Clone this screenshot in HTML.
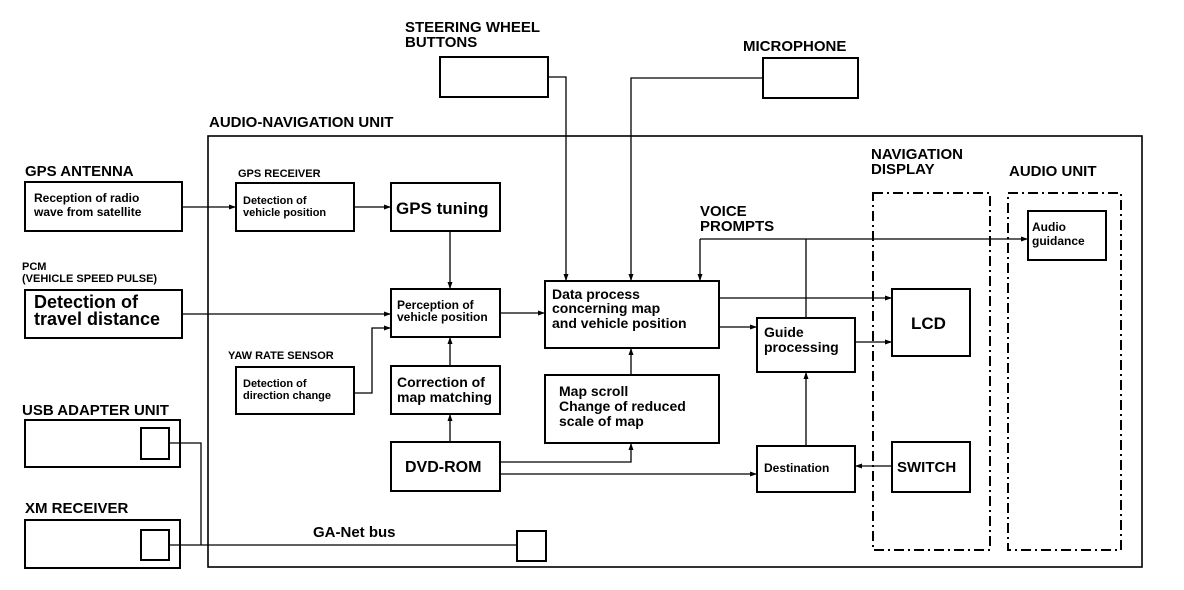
<!DOCTYPE html>
<html><head><meta charset="utf-8"><style>
html,body{margin:0;padding:0;background:#fff;}
svg{display:block;}
text{font-family:"Liberation Sans",Arial,sans-serif;font-weight:bold;fill:#000;}
</style></head><body>
<svg width="1184" height="590" viewBox="0 0 1184 590" xmlns="http://www.w3.org/2000/svg">
<defs>
<marker id="a" markerWidth="8" markerHeight="6" refX="7" refY="3" orient="auto" markerUnits="userSpaceOnUse">
<path d="M0,0.5 L7,3 L0,5.5 z" fill="#000"/></marker>
</defs>
<g fill="none" stroke="#000" stroke-width="1.3">
<!-- outer -->
<rect x="208" y="136" width="934" height="431" stroke-width="1.6"/>
<!-- external -->
<rect x="440" y="57" width="108" height="40" stroke-width="2"/>
<rect x="763" y="58" width="95" height="40" stroke-width="2"/>
<rect x="25" y="182" width="157" height="49" stroke-width="2"/>
<rect x="25" y="290" width="157" height="48" stroke-width="2"/>
<rect x="25" y="420" width="155" height="47" stroke-width="2"/>
<rect x="141" y="428" width="28" height="31" stroke-width="2"/>
<rect x="25" y="520" width="155" height="48" stroke-width="2"/>
<rect x="141" y="530" width="28" height="30" stroke-width="2"/>
<!-- inner -->
<rect x="236" y="183" width="118" height="48" stroke-width="2"/>
<rect x="391" y="183" width="109" height="48" stroke-width="2"/>
<rect x="391" y="289" width="109" height="48" stroke-width="2"/>
<rect x="236" y="367" width="118" height="47" stroke-width="2"/>
<rect x="391" y="366" width="109" height="48" stroke-width="2"/>
<rect x="391" y="442" width="109" height="49" stroke-width="2"/>
<rect x="545" y="281" width="174" height="67" stroke-width="2"/>
<rect x="545" y="375" width="174" height="68" stroke-width="2"/>
<rect x="757" y="318" width="98" height="54" stroke-width="2"/>
<rect x="757" y="446" width="98" height="46" stroke-width="2"/>
<rect x="892" y="289" width="78" height="67" stroke-width="2"/>
<rect x="892" y="442" width="78" height="50" stroke-width="2"/>
<rect x="1028" y="211" width="78" height="49" stroke-width="2"/>
<rect x="517" y="531" width="29" height="30" stroke-width="2"/>
<!-- dashed -->
<rect x="873" y="193" width="117" height="357" stroke-width="2" stroke-dasharray="10,4,2,4"/>
<rect x="1008" y="193" width="113" height="357" stroke-width="2" stroke-dasharray="10,4,2,4"/>
<!-- connectors -->
<path d="M182,207 H236" marker-end="url(#a)"/>
<path d="M354,207 H391" marker-end="url(#a)"/>
<path d="M450,231 V289" marker-end="url(#a)"/>
<path d="M182,314 H391" marker-end="url(#a)"/>
<path d="M354,393 H372 V328 H391" marker-end="url(#a)"/>
<path d="M450,366 V337" marker-end="url(#a)"/>
<path d="M450,442 V414" marker-end="url(#a)"/>
<path d="M500,313 H545" marker-end="url(#a)"/>
<path d="M548,77 H566 V281" marker-end="url(#a)"/>
<path d="M763,78 H631 V281" marker-end="url(#a)"/>
<path d="M631,375 V348" marker-end="url(#a)"/>
<path d="M500,462 H631 V443" marker-end="url(#a)"/>
<path d="M500,474 H757" marker-end="url(#a)"/>
<path d="M719,298 H892" marker-end="url(#a)"/>
<path d="M719,327 H757" marker-end="url(#a)"/>
<path d="M855,342 H892" marker-end="url(#a)"/>
<path d="M806,446 V372" marker-end="url(#a)"/>
<path d="M806,318 V239"/>
<path d="M700,239 H1028" marker-end="url(#a)"/>
<path d="M700,239 V281" marker-end="url(#a)"/>
<path d="M892,466 H855" marker-end="url(#a)"/>
<path d="M169,443 H201 V545"/>
<path d="M169,545 H517"/>
</g>
<g font-size="15">
<text x="405" y="32">STEERING WHEEL</text>
<text x="405" y="47">BUTTONS</text>
<text x="743" y="51">MICROPHONE</text>
<text x="209" y="127">AUDIO-NAVIGATION UNIT</text>
<text x="25" y="176">GPS ANTENNA</text>
<text x="22" y="415">USB ADAPTER UNIT</text>
<text x="25" y="513">XM RECEIVER</text>
<text x="313" y="537">GA-Net bus</text>
<text x="871" y="159">NAVIGATION</text>
<text x="871" y="174">DISPLAY</text>
<text x="1009" y="176">AUDIO UNIT</text>
<text x="700" y="216">VOICE</text>
<text x="700" y="231">PROMPTS</text>
<text x="396" y="214" font-size="17">GPS tuning</text>
<text x="911" y="329" font-size="17">LCD</text>
<text x="897" y="472">SWITCH</text>
<text x="405" y="472" font-size="16">DVD-ROM</text>
</g>
<g font-size="11">
<text x="238" y="177">GPS RECEIVER</text>
<text x="22" y="270">PCM</text>
<text x="22" y="282">(VEHICLE SPEED PULSE)</text>
<text x="228" y="359">YAW RATE SENSOR</text>
<text x="243" y="204">Detection of</text>
<text x="243" y="216">vehicle position</text>
<text x="243" y="387">Detection of</text>
<text x="243" y="399">direction change</text>
</g>
<g font-size="12">
<text x="34" y="202">Reception of radio</text>
<text x="34" y="216">wave from satellite</text>
<text x="397" y="309">Perception of</text>
<text x="397" y="321">vehicle position</text>
<text x="1032" y="231">Audio</text>
<text x="1032" y="245">guidance</text>
<text x="764" y="472">Destination</text>
</g>
<g font-size="14">
<text x="397" y="387">Correction of</text>
<text x="397" y="402">map matching</text>
<text x="552" y="299">Data process</text>
<text x="552" y="313">concerning map</text>
<text x="552" y="328">and vehicle position</text>
<text x="559" y="396">Map scroll</text>
<text x="559" y="411">Change of reduced</text>
<text x="559" y="426">scale of map</text>
<text x="764" y="337">Guide</text>
<text x="764" y="352">processing</text>
</g>
<g font-size="18">
<text x="34" y="308">Detection of</text>
<text x="34" y="325">travel distance</text>
</g>
</svg>
</body></html>
